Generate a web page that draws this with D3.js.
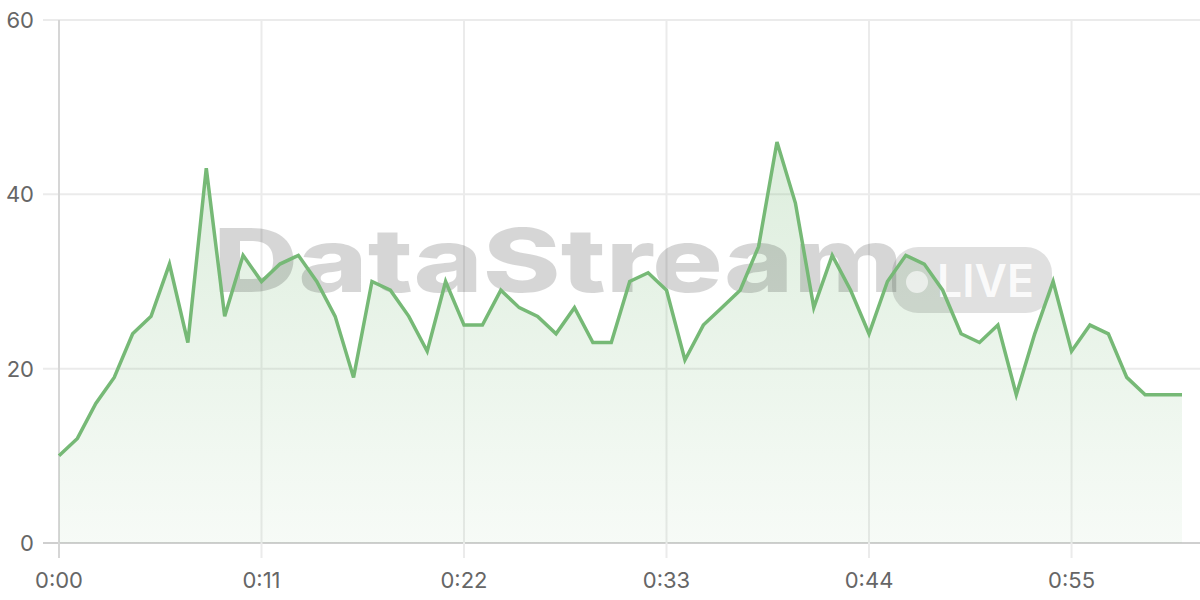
<!DOCTYPE html>
<html><head><meta charset="utf-8">
<script src="https://cdn.jsdelivr.net/npm/d3@7"></script>
<style>html,body{margin:0;padding:0;background:#fff;}svg{display:block;}</style>
</head><body>
<svg id="c" width="1200" height="600"></svg>
<script>
const seconds = [0,1,2,3,4,5,6,7,8,9,10,11,12,13,14,15,16,17,18,19,20,21,22,23,24,25,26,27,28,29,30,31,32,33,34,35,36,37,38,39,40,41,42,43,44,45,46,47,48,49,50,51,52,53,54,55,56,57,58,59,60,61];
const values = [10,12,16,19,24,26,32,23,43,26,33,30,32,33,30,26,19,30,29,26,22,30,25,25,29,27,26,24,27,23,23,30,31,29,21,25,27,29,34,46,39,27,33,29,24,30,33,32,29,24,23,25,17,24,30,22,25,24,19,17,17,17];
const xTicks = [0,11,22,33,44,55];
const yTicks = [0,20,40,60];

const svg = d3.select('#c');
const x = d3.scaleLinear().domain([0, 61]).range([59, 1182]);
const y = d3.scaleLinear().domain([0, 60]).range([543, 20]);
const fmt = s => Math.floor(s/60) + ':' + String(s%60).padStart(2,'0');
const green = '#76b976';

const defs = svg.append('defs');
const g = defs.append('linearGradient').attr('id','ag').attr('x1',0).attr('y1',0).attr('x2',0).attr('y2',1);
g.append('stop').attr('offset','0%').attr('stop-color',green).attr('stop-opacity',0.25);
g.append('stop').attr('offset','100%').attr('stop-color',green).attr('stop-opacity',0.06);

// grid
const grid = svg.append('g');
grid.selectAll('line.h').data(yTicks).join('line')
  .attr('x1',43).attr('x2',1200).attr('y1',d=>y(d)).attr('y2',d=>y(d))
  .attr('stroke', d => d===0 ? '#cfcfcf' : '#ebebeb').attr('stroke-width',2);
grid.selectAll('line.v').data(xTicks).join('line')
  .attr('y1',20).attr('y2',558).attr('x1',d=>x(d)).attr('x2',d=>x(d))
  .attr('stroke', d => d===0 ? '#d6d6d6' : '#ebebeb').attr('stroke-width',2);

// area
const pts = seconds.map((s,i)=>({s, v:values[i]}));
svg.append('path').datum(pts)
  .attr('d', d3.area().x(d=>x(d.s)).y0(y(0)).y1(d=>y(d.v)))
  .attr('fill','url(#ag)');

// watermark
const wm = svg.append('g');
wm.append('text').attr('x',213).attr('y',292)
  .attr('font-family','Inter, "Open Sans", sans-serif').attr('font-weight',800)
  .attr('font-size',88).attr('textLength',690).attr('lengthAdjust','spacingAndGlyphs')
  .attr('fill','#000').attr('fill-opacity',0.16).text('DataStream');
wm.append('rect').attr('x',892).attr('y',247).attr('width',160).attr('height',66).attr('rx',26)
  .attr('fill','#000').attr('fill-opacity',0.12);
wm.append('circle').attr('cx',917).attr('cy',282).attr('r',11).attr('fill','#fff').attr('fill-opacity',0.6);
wm.append('text').attr('x',937).attr('y',297)
  .attr('font-family','Inter, "Open Sans", sans-serif').attr('font-weight',600)
  .attr('font-size',45).attr('textLength',97).attr('lengthAdjust','spacingAndGlyphs')
  .attr('fill','#fff').attr('fill-opacity',0.85).text('LIVE');

// line
svg.append('path').datum(pts)
  .attr('d', d3.line().x(d=>x(d.s)).y(d=>y(d.v)))
  .attr('fill','none').attr('stroke',green).attr('stroke-width',3.5).attr('stroke-linejoin','miter');

// axes labels
const ax = svg.append('g').attr('font-family','Inter, "Liberation Sans", sans-serif').attr('font-size',22).attr('fill','#666');
ax.selectAll('text.y').data(yTicks).join('text')
  .attr('x',34).attr('y',d=>y(d)).attr('dy','0.36em').attr('text-anchor','end').text(d=>d);
ax.selectAll('text.x').data(xTicks).join('text')
  .attr('x',d=>x(d)).attr('y',580).attr('dy','0.36em').attr('text-anchor','middle').text(fmt);
</script>
</body></html>
